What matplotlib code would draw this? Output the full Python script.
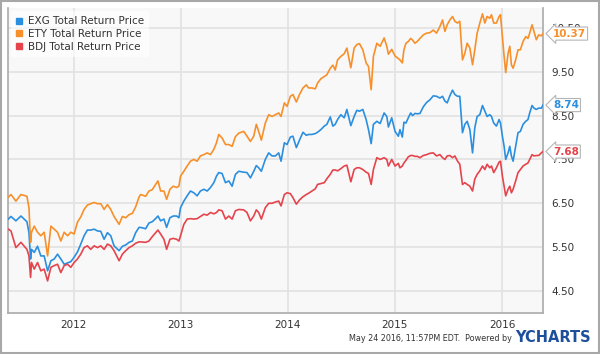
import numpy as np
import matplotlib.pyplot as plt
from matplotlib.patches import Rectangle
from matplotlib.lines import Line2D

# dates as decimal years, shared by the three series
dates = [
    2011.388, 2011.413, 2011.459, 2011.506, 2011.562, 2011.581, 2011.596, 2011.605, 2011.630, 2011.661,
    2011.692, 2011.723, 2011.755, 2011.786, 2011.817, 2011.848, 2011.879, 2011.910, 2011.941, 2011.972,
    2012.003, 2012.034, 2012.065, 2012.096, 2012.127, 2012.158, 2012.190, 2012.221, 2012.252, 2012.283,
    2012.314, 2012.345, 2012.376, 2012.423, 2012.454, 2012.485, 2012.516, 2012.547, 2012.578, 2012.609,
    2012.624, 2012.671, 2012.702, 2012.733, 2012.764, 2012.786, 2012.811, 2012.842, 2012.867, 2012.898,
    2012.929, 2012.960, 2012.982, 2012.997, 2013.028, 2013.059, 2013.090, 2013.121, 2013.152, 2013.183,
    2013.215, 2013.246, 2013.277, 2013.308, 2013.333, 2013.354, 2013.385, 2013.417, 2013.448, 2013.479,
    2013.510, 2013.541, 2013.587, 2013.618, 2013.650, 2013.681, 2013.705, 2013.727, 2013.752, 2013.789,
    2013.821, 2013.852, 2013.883, 2013.914, 2013.936, 2013.967, 2013.992, 2014.023, 2014.047, 2014.079,
    2014.110, 2014.141, 2014.172, 2014.194, 2014.225, 2014.256, 2014.277, 2014.308, 2014.340, 2014.364,
    2014.396, 2014.420, 2014.442, 2014.464, 2014.495, 2014.526, 2014.551, 2014.588, 2014.619, 2014.644,
    2014.669, 2014.700, 2014.731, 2014.753, 2014.778, 2014.799, 2014.831, 2014.862, 2014.899, 2014.924,
    2014.939, 2014.970, 2015.001, 2015.032, 2015.047, 2015.069, 2015.084, 2015.103, 2015.125, 2015.147,
    2015.165, 2015.187, 2015.209, 2015.234, 2015.265, 2015.296, 2015.327, 2015.358, 2015.389, 2015.420,
    2015.445, 2015.467, 2015.488, 2015.513, 2015.538, 2015.560, 2015.585, 2015.606, 2015.631, 2015.653,
    2015.675, 2015.700, 2015.725, 2015.746, 2015.768, 2015.793, 2015.818, 2015.840, 2015.861, 2015.886,
    2015.902, 2015.923, 2015.948, 2015.973, 2015.986, 2016.004, 2016.020, 2016.035, 2016.057, 2016.073,
    2016.088, 2016.104, 2016.128, 2016.150, 2016.172, 2016.197, 2016.222, 2016.243, 2016.259, 2016.281,
    2016.299, 2016.321, 2016.343, 2016.368, 2016.383,
]

exg = [
    6.14, 6.20, 6.10, 6.21, 6.08, 5.83, 5.23, 5.45, 5.38, 5.52,
    5.30, 5.30, 4.96, 5.19, 5.23, 5.34, 5.23, 5.11, 5.14, 5.17,
    5.27, 5.39, 5.57, 5.76, 5.89, 5.89, 5.91, 5.87, 5.86, 5.68,
    5.83, 5.76, 5.53, 5.42, 5.52, 5.55, 5.61, 5.64, 5.83, 5.95,
    5.95, 5.92, 6.05, 6.08, 6.15, 6.21, 6.10, 6.14, 5.95, 6.17,
    6.21, 6.21, 6.17, 6.40, 6.55, 6.67, 6.78, 6.74, 6.67, 6.78,
    6.82, 6.78, 6.86, 6.97, 7.12, 7.20, 7.18, 6.97, 7.01, 6.89,
    7.16, 7.23, 7.21, 7.20, 7.08, 7.23, 7.36, 7.31, 7.23, 7.50,
    7.65, 7.58, 7.58, 7.65, 7.46, 7.88, 7.84, 8.01, 8.03, 7.77,
    7.95, 8.12, 8.05, 8.07, 8.07, 8.09, 8.12, 8.18, 8.26, 8.30,
    8.47, 8.26, 8.30, 8.41, 8.52, 8.45, 8.64, 8.27, 8.48, 8.62,
    8.60, 8.64, 8.41, 8.18, 7.86, 8.30, 8.37, 8.32, 8.56, 8.48,
    8.24, 8.45, 8.14, 8.03, 8.18, 8.01, 8.35, 8.33, 8.45, 8.56,
    8.50, 8.55, 8.54, 8.55, 8.70, 8.80, 8.86, 8.95, 8.94, 8.90,
    8.94, 8.83, 8.79, 8.95, 9.08, 8.98, 8.94, 8.94, 8.11, 8.30,
    8.37, 8.18, 7.65, 8.22, 8.48, 8.52, 8.73, 8.60, 8.48, 8.52,
    8.48, 8.33, 8.26, 8.41, 8.33, 8.03, 7.80, 7.50, 7.65, 7.80,
    7.58, 7.46, 7.80, 8.11, 8.14, 8.30, 8.37, 8.41, 8.56, 8.73,
    8.67, 8.64, 8.67, 8.67, 8.74,
]

ety = [
    6.64, 6.70, 6.55, 6.70, 6.66, 6.40, 5.61, 5.84, 5.98, 5.84,
    5.76, 5.84, 5.30, 5.98, 5.91, 5.84, 5.64, 5.84, 5.76, 5.84,
    5.80, 6.07, 6.19, 6.36, 6.46, 6.49, 6.52, 6.49, 6.49, 6.36,
    6.47, 6.36, 6.20, 6.02, 6.20, 6.17, 6.24, 6.27, 6.42, 6.64,
    6.70, 6.66, 6.78, 6.81, 6.93, 7.01, 6.78, 6.78, 6.59, 6.82,
    6.89, 6.86, 6.89, 7.12, 7.23, 7.35, 7.46, 7.50, 7.46, 7.58,
    7.61, 7.65, 7.61, 7.73, 7.88, 8.07, 7.99, 7.84, 7.84, 7.80,
    8.02, 8.10, 8.14, 8.03, 7.91, 8.03, 8.30, 8.14, 7.94, 8.33,
    8.52, 8.48, 8.52, 8.56, 8.48, 8.79, 8.71, 8.94, 8.98, 8.81,
    8.99, 9.13, 9.20, 9.13, 9.13, 9.11, 9.24, 9.34, 9.39, 9.43,
    9.58, 9.65, 9.54, 9.77, 9.85, 9.91, 10.04, 9.59, 10.04, 10.12,
    10.14, 10.00, 9.70, 9.62, 9.09, 9.85, 10.15, 10.08, 10.27, 10.08,
    9.90, 10.01, 9.86, 9.80, 9.77, 9.70, 10.00, 10.15, 10.19, 10.26,
    10.22, 10.15, 10.19, 10.26, 10.34, 10.38, 10.39, 10.45, 10.38, 10.53,
    10.68, 10.42, 10.57, 10.68, 10.76, 10.65, 10.61, 10.65, 9.77, 9.92,
    10.15, 10.04, 9.66, 10.00, 10.38, 10.61, 10.82, 10.61, 10.76, 10.72,
    10.80, 10.61, 10.61, 10.76, 10.80, 10.30, 9.85, 9.48, 9.92, 10.08,
    9.66, 9.58, 9.77, 10.00, 10.00, 10.19, 10.30, 10.26, 10.38, 10.57,
    10.42, 10.23, 10.34, 10.32, 10.37,
]

bdj = [
    5.91, 5.87, 5.49, 5.61, 5.45, 5.30, 4.81, 5.15, 5.00, 5.15,
    4.96, 5.00, 4.73, 5.04, 5.08, 5.11, 4.92, 5.08, 5.11, 5.04,
    5.15, 5.23, 5.34, 5.49, 5.53, 5.45, 5.53, 5.49, 5.53, 5.45,
    5.57, 5.53, 5.42, 5.19, 5.34, 5.42, 5.49, 5.53, 5.59, 5.62,
    5.62, 5.61, 5.64, 5.74, 5.83, 5.89, 5.80, 5.68, 5.45, 5.68,
    5.70, 5.68, 5.64, 5.76, 6.02, 6.14, 6.15, 6.14, 6.15, 6.20,
    6.25, 6.23, 6.29, 6.26, 6.29, 6.35, 6.33, 6.14, 6.21, 6.14,
    6.33, 6.36, 6.35, 6.29, 6.10, 6.21, 6.35, 6.29, 6.14, 6.40,
    6.50, 6.50, 6.53, 6.55, 6.44, 6.70, 6.74, 6.72, 6.63, 6.48,
    6.58, 6.65, 6.70, 6.73, 6.78, 6.83, 6.93, 6.95, 6.97, 7.06,
    7.16, 7.26, 7.26, 7.24, 7.29, 7.35, 7.37, 6.99, 7.27, 7.31,
    7.31, 7.27, 7.21, 7.18, 6.93, 7.27, 7.54, 7.50, 7.54, 7.50,
    7.35, 7.50, 7.35, 7.41, 7.31, 7.35, 7.42, 7.48, 7.56, 7.59,
    7.59, 7.57, 7.57, 7.54, 7.59, 7.61, 7.64, 7.65, 7.58, 7.61,
    7.54, 7.50, 7.58, 7.59, 7.54, 7.58, 7.46, 7.39, 6.93, 6.97,
    6.93, 6.89, 6.78, 7.05, 7.16, 7.24, 7.35, 7.27, 7.39, 7.31,
    7.35, 7.20, 7.31, 7.44, 7.46, 7.12, 6.89, 6.67, 6.82, 6.89,
    6.74, 6.82, 7.01, 7.20, 7.27, 7.35, 7.39, 7.42, 7.50, 7.61,
    7.58, 7.59, 7.59, 7.65, 7.68,
]

names = ['EXG Total Return Price', 'ETY Total Return Price', 'BDJ Total Return Price']
colors = ['#2b8fe0', '#f7902a', '#e5444c']
last_labels = ['8.74', '10.37', '7.68']
last_pos = [8.74, 10.37, 7.68]

yticks = [4.5, 5.5, 6.5, 7.5, 8.5, 9.5, 10.5]
xticks = [2012, 2013, 2014, 2015, 2016]

fig = plt.figure(figsize=(6, 3.54), dpi=100)
fig.patch.set_facecolor('white')
fig.add_artist(Rectangle((0.002, 0.003), 0.996, 0.994, transform=fig.transFigure,
                         fill=False, edgecolor='#a8a8a8', linewidth=1.5))

ax = fig.add_axes([0.0133, 0.116, 0.892, 0.861])
ax.set_facecolor('#f8f8f8')

for series, c in zip([exg, ety, bdj], colors):
    ax.plot(dates, series, color=c, linewidth=1.2, zorder=3)

ax.set_xlim(2011.385, 2016.385)
ax.set_ylim(4.0, 10.95)
ax.set_xticks(xticks)
ax.set_xticklabels([str(t) for t in xticks])
ax.set_yticks(yticks)
ax.set_yticklabels(['%.2f' % t for t in yticks])
ax.yaxis.tick_right()
ax.tick_params(axis='both', length=0, labelsize=7.5, colors='#333333')
ax.tick_params(axis='y', pad=6)
ax.tick_params(axis='x', pad=5)
ax.grid(True, color='#e2e2e2', linewidth=1.2)
ax.set_axisbelow(True)
ax.spines['top'].set_visible(False)
for s in ['left', 'right', 'bottom']:
    ax.spines[s].set_color('#aaaaaa')
    ax.spines[s].set_linewidth(1.2)

# end-of-line value labels
for txt, v, c in zip(last_labels, last_pos, colors):
    ax.annotate(txt, xy=(1.0, v), xycoords=('axes fraction', 'data'),
                xytext=(7, 0), textcoords='offset points', va='center', ha='left',
                color=c, fontsize=7.5, fontweight='bold', zorder=5, annotation_clip=False,
                bbox=dict(boxstyle='larrow,pad=0.15', facecolor='white', edgecolor='#b5b5b5',
                          linewidth=0.8))

handles = [Line2D([], [], linestyle='none', marker='s', markersize=5, color=c) for c in colors]
leg = ax.legend(handles, names, loc='upper left', fontsize=7.5, frameon=True,
                handlelength=0.6, handletextpad=0.5, labelspacing=0.25,
                borderaxespad=0.3, borderpad=0.5)
leg.get_frame().set_facecolor('white')
leg.get_frame().set_alpha(0.6)
leg.get_frame().set_edgecolor('none')
for t in leg.get_texts():
    t.set_color('#333333')

fig.text(0.853, 0.043, 'May 24 2016, 11:57PM EDT.  Powered by', ha='right', va='center',
         fontsize=5.8, color='#333333')
fig.text(0.985, 0.047, 'YCHARTS', ha='right', va='center', fontsize=10.5,
         fontweight='bold', color='#1c4f9c')

fig.savefig('out.png', dpi=100)
